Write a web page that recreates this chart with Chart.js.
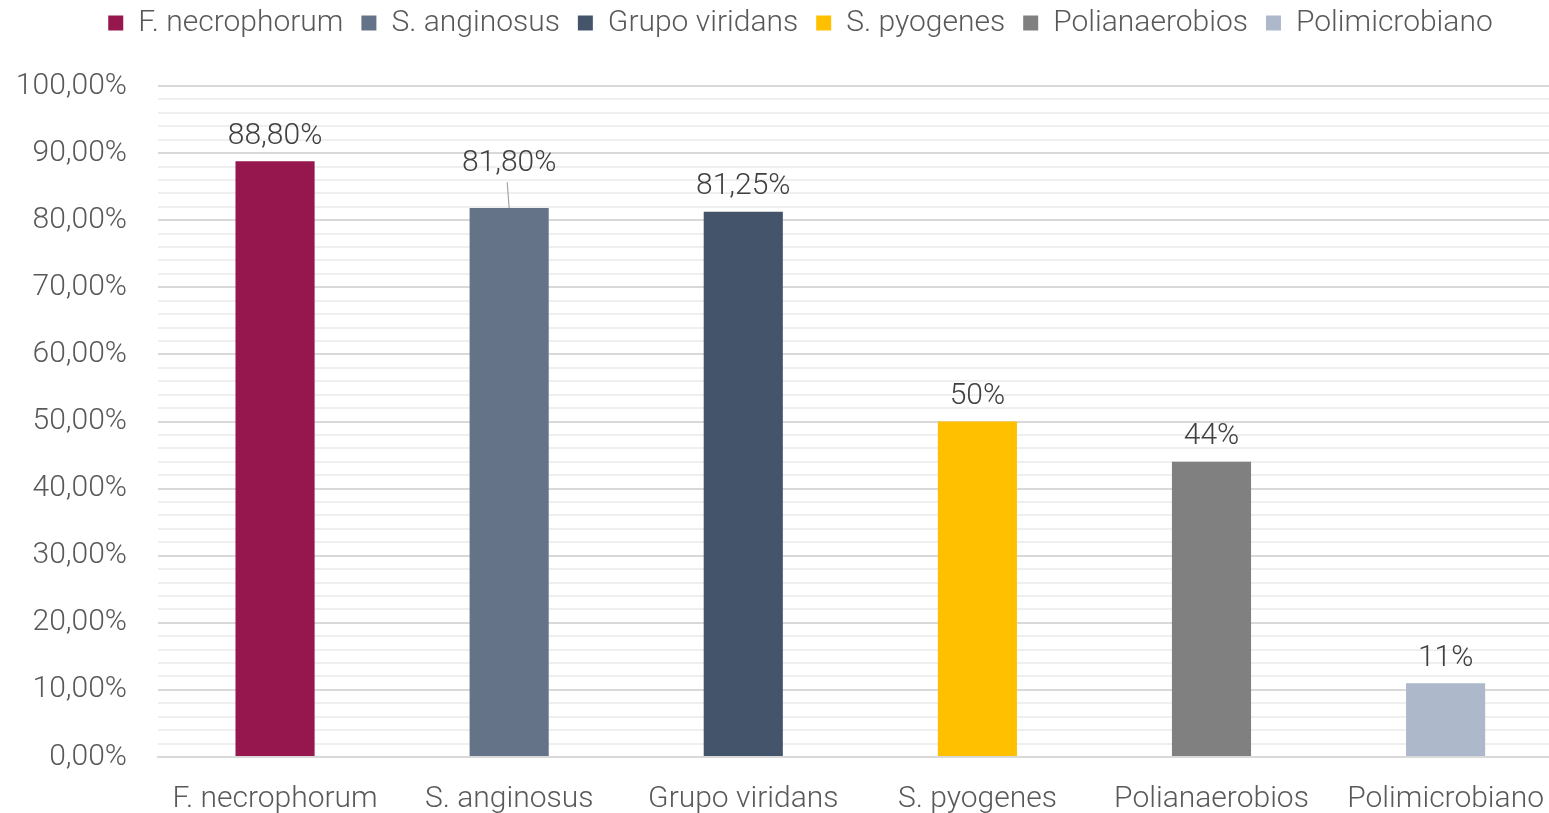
<!DOCTYPE html>
<html>
<head>
<meta charset="utf-8">
<script src="https://cdn.jsdelivr.net/npm/chart.js@4"></script>
<style>
html,body{margin:0;padding:0;background:#fff;overflow:hidden;}
#wrap{width:1568px;height:813px;position:relative;}
</style>
</head>
<body>
<div id="wrap"><canvas id="c"></canvas></div>
<script>
const categories = ["F. necrophorum", "S. anginosus", "Grupo viridans", "S. pyogenes", "Polianaerobios", "Polimicrobiano"];
const values = [88.8, 81.8, 81.25, 50, 44, 11];
const valueLabels = ["88,80%", "81,80%", "81,25%", "50%", "44%", "11%"];
const colors = ["#95174E", "#647387", "#44546A", "#FFC000", "#808080", "#ADB9CA"];
const yTickLabels = ["0,00%", "10,00%", "20,00%", "30,00%", "40,00%", "50,00%", "60,00%", "70,00%", "80,00%", "90,00%", "100,00%"];

const FONT = "Roboto, 'Open Sans', sans-serif";

const legendSpacer = {
  id: 'legendSpacer',
  beforeInit(chart) {
    const orig = chart.legend.fit;
    chart.legend.fit = function () {
      orig.call(this);
      this.height += 28;
    };
  },
  afterLayout(chart) {
    chart.legend.left += 8;
    chart.legend.right += 8;
    chart.legend.top -= 10;
    chart.legend.bottom -= 10;
  }
};

const dataLabelPlugin = {
  id: 'dataLabels',
  afterDatasetsDraw(chart, args, opts) {
    const ctx = chart.ctx;
    const meta = chart.getDatasetMeta(0);
    ctx.save();
    ctx.font = "300 30px " + FONT;
    ctx.fillStyle = "#404040";
    ctx.textAlign = "center";
    ctx.textBaseline = "middle";
    meta.data.forEach((bar, i) => {
      const lift = (opts.lifts && opts.lifts[i]) || 0;
      const y = bar.y - 25 - lift;
      ctx.fillText(valueLabels[i], bar.x, y);
      if (lift > 0) {
        ctx.strokeStyle = "#a6a6a6";
        ctx.lineWidth = 1.2;
        ctx.beginPath();
        ctx.moveTo(bar.x - 2, y + 19);
        ctx.lineTo(bar.x, bar.y);
        ctx.stroke();
      }
    });
    ctx.restore();
  }
};

new Chart(document.getElementById('c'), {
  type: 'bar',
  data: {
    labels: categories,
    datasets: [{
      data: values,
      backgroundColor: colors,
      borderWidth: 0,
      categoryPercentage: 1,
      barPercentage: 0.338
    }]
  },
  plugins: [legendSpacer, dataLabelPlugin],
  options: {
    responsive: true,
    maintainAspectRatio: false,
    animation: false,
    layout: { padding: { left: 17, right: 0, top: 0, bottom: 0 } },
    plugins: {
      tooltip: { enabled: false },
      dataLabels: { lifts: [0, 20, 0, 0, 0, 0] },
      legend: {
        position: 'top',
        labels: {
          font: { family: FONT, size: 30, weight: '300' },
          color: "#595959",
          boxWidth: 15,
          boxHeight: 15,
          padding: 18,
          generateLabels(chart) {
            return categories.map((c, i) => ({
              text: c,
              fillStyle: colors[i],
              strokeStyle: colors[i],
              lineWidth: 0,
              fontColor: "#595959",
              index: i
            }));
          }
        }
      }
    },
    scales: {
      x: {
        afterFit(scale) { scale.height = 56; },
        grid: { display: false, drawTicks: false },
        border: { display: true, color: "#d9d9d9", width: 2 },
        ticks: { font: { family: FONT, size: 30, weight: '300' }, color: "#595959", padding: 24 }
      },
      y: {
        min: 0, max: 100,
        afterFit(scale) { scale.width = 141; },
        border: { display: false },
        grid: {
          drawTicks: false,
          color: (ctx) => (ctx.tick && ctx.tick.value % 10 === 0) ? "#d9d9d9" : "#efefef",
          lineWidth: 2
        },
        ticks: {
          stepSize: 2,
          autoSkip: false,
          padding: 31,
          font: { family: FONT, size: 30, weight: '300' },
          color: "#595959",
          callback: (v) => (v % 10 === 0) ? yTickLabels[v / 10] : ''
        }
      }
    }
  }
});
</script>
</body>
</html>
